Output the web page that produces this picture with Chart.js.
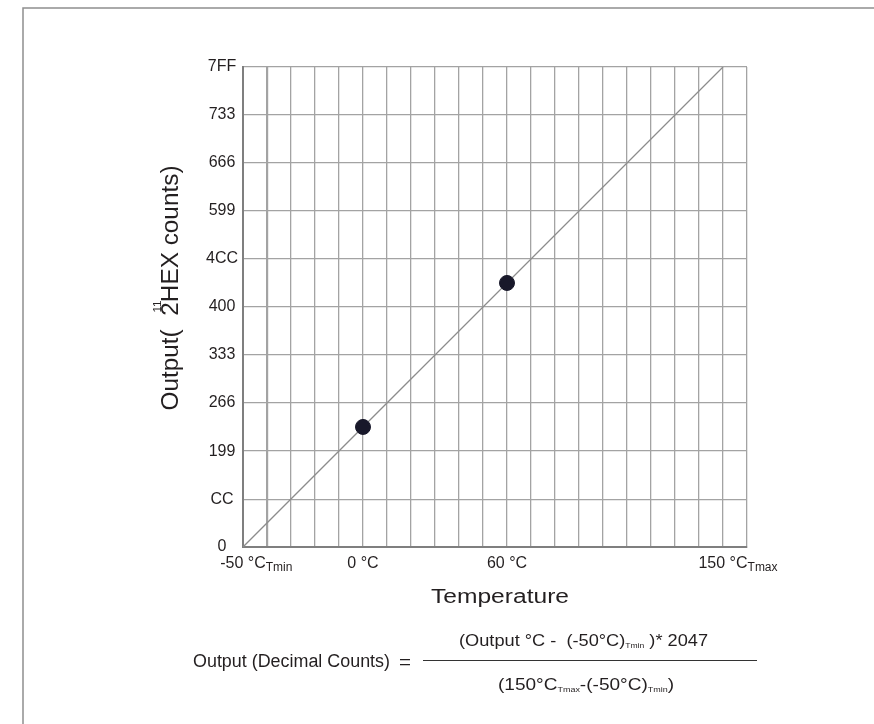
<!DOCTYPE html>
<html>
<head>
<meta charset="utf-8">
<script src="https://cdn.jsdelivr.net/npm/chart.js@4.4.1/dist/chart.umd.min.js"></script>
<style>
	html, body { margin: 0; padding: 0; background: #fff; }
	#wrap { width: 874px; height: 724px; }
</style>
</head>
<body>
<div id="wrap"><canvas id="tempChart" width="874" height="724"></canvas></div>
<script>
// Transfer line (temperature -> counts) and the two marked points.
const lineTemps = [ -50, 150 ];
const lineCounts = [ 0, 2047 ];
const pointTemps = [ 0, 60 ];
const pointCounts = [ 512, 1126 ];

// Grid every 10 degrees, axis runs one step past Tmax.
const gridTemps = [ -50, -40, -30, -20, -10, 0, 10, 20, 30, 40, 50, 60, 70, 80, 90, 100, 110, 120, 130, 140, 150, 160 ];
const xLabelTemps = [ -50, 0, 60, 150 ];
const xLabelText = [ '-50 °C', '0 °C', '60 °C', '150 °C' ];
const xLabelSub = [ 'Tmin', '', '', 'Tmax' ];

// Y ticks are hex counts.
const yTickLabels = [ '0', 'CC', '199', '266', '333', '400', '4CC', '599', '666', '733', '7FF' ];

const FONT = '"Liberation Sans", Arial, sans-serif';
const TEXT = '#231f20';

function textWidth( ctx, text, size ) {
	ctx.font = size + 'px ' + FONT;
	return ctx.measureText( text ).width;
}

// Draw a list of [text, isSub] runs on one line, stretched to a target width.
function drawRuns( ctx, runs, left, y, size, subSize, target ) {
	let natural = 0;
	runs.forEach( function ( r ) {
		natural += textWidth( ctx, r[ 0 ], r[ 1 ] ? subSize : size );
	} );
	const sx = target ? target / natural : 1;
	ctx.save();
	ctx.translate( left, y );
	ctx.scale( sx, 1 );
	ctx.textAlign = 'left';
	ctx.textBaseline = 'middle';
	let x = 0;
	runs.forEach( function ( r ) {
		const s = r[ 1 ] ? subSize : size;
		ctx.font = s + 'px ' + FONT;
		ctx.fillText( r[ 0 ], x, r[ 1 ] ? size * 0.3 : 0 );
		x += ctx.measureText( r[ 0 ] ).width;
	} );
	ctx.restore();
}

const decor = {
	id: 'decor',
	beforeDraw: function ( chart ) {
		const ctx = chart.ctx;
		ctx.save();
		ctx.strokeStyle = '#8f8f8f';
		ctx.lineWidth = 1.5;
		ctx.beginPath();
		ctx.moveTo( 23, 724 );
		ctx.lineTo( 23, 8 );
		ctx.lineTo( 874, 8 );
		ctx.stroke();
		ctx.restore();
	},
	afterDraw: function ( chart ) {
		const ctx = chart.ctx,
			xs = chart.scales.x,
			area = chart.chartArea;
		ctx.save();
		ctx.fillStyle = TEXT;

		// X tick labels with subscripts
		xLabelTemps.forEach( function ( t, i ) {
			const px = xs.getPixelForValue( t );
			ctx.font = '16px ' + FONT;
			ctx.textAlign = 'center';
			ctx.textBaseline = 'middle';
			ctx.fillText( xLabelText[ i ], px, area.bottom + 17 );
			if ( xLabelSub[ i ] ) {
				const w = ctx.measureText( xLabelText[ i ] ).width;
				ctx.font = '12px ' + FONT;
				ctx.textAlign = 'left';
				ctx.fillText( xLabelSub[ i ], px + w / 2, area.bottom + 21 );
			}
		} );

		// X title
		drawRuns( ctx, [ [ 'Temperature', 0 ] ], 431, 597, 20, 0, 138 );

		// Y title, rotated, with the 2^11 superscript
		ctx.save();
		ctx.translate( 172, 288 );
		ctx.rotate( -Math.PI / 2 );
		const full = textWidth( ctx, 'Output(  2HEX counts)', 23 );
		const sx = 245 / full;
		ctx.scale( sx, 1 );
		ctx.textBaseline = 'middle';
		ctx.textAlign = 'left';
		ctx.font = '23px ' + FONT;
		ctx.fillText( 'Output(  2HEX counts)', -full / 2, 0 );
		const pre = textWidth( ctx, 'Output(  ', 23 );
		ctx.font = '11px ' + FONT;
		ctx.fillText( '11', -full / 2 + pre + 3, -14 );
		ctx.restore();

		// Formula
		drawRuns( ctx, [ [ 'Output (Decimal Counts)', 0 ] ], 193, 662, 18, 0, 197 );
		drawRuns( ctx, [ [ '=', 0 ] ], 399, 663, 18, 0, 12 );
		ctx.strokeStyle = '#333';
		ctx.lineWidth = 1;
		ctx.beginPath();
		ctx.moveTo( 423, 660.5 );
		ctx.lineTo( 757, 660.5 );
		ctx.stroke();
		drawRuns( ctx, [ [ '(Output °C -  (-50°C)', 0 ], [ 'Tmin', 1 ], [ ' )* 2047', 0 ] ], 459, 641, 17, 8, 249 );
		drawRuns( ctx, [ [ '(150°C', 0 ], [ 'Tmax', 1 ], [ '-(-50°C)', 0 ], [ 'Tmin', 1 ], [ ')', 0 ] ], 498, 685, 17, 8, 176 );

		ctx.restore();
	}
};

new Chart( document.getElementById( 'tempChart' ), {
	type: 'scatter',
	data: {
		datasets: [ {
			type: 'line',
			data: lineTemps.map( function ( t, i ) { return { x: t, y: lineCounts[ i ] }; } ),
			borderColor: '#8c8c8c',
			borderWidth: 1.3,
			pointRadius: 0,
			order: 2
		}, {
			data: pointTemps.map( function ( t, i ) { return { x: t, y: pointCounts[ i ] }; } ),
			backgroundColor: '#18182a',
			borderColor: '#18182a',
			pointRadius: 7.5,
			order: 1
		} ]
	},
	options: {
		responsive: false,
		animation: false,
		layout: { padding: { left: 0, top: 67, right: 127, bottom: 0 } },
		plugins: {
			legend: { display: false },
			tooltip: { enabled: false }
		},
		scales: {
			x: {
				type: 'linear',
				min: -50,
				max: 160,
				afterBuildTicks: function ( s ) {
					s.ticks = gridTemps.map( function ( v ) { return { value: v }; } );
				},
				afterFit: function ( s ) { s.height = 177; },
				ticks: { display: false },
				grid: {
					color: '#a3a3a3',
					lineWidth: function ( c ) { return c.tick && c.tick.value === -40 ? 2.2 : 1.3; },
					drawTicks: false
				},
				border: { color: '#7f7f7f', width: 2 }
			},
			y: {
				min: 0,
				max: 2047,
				afterBuildTicks: function ( s ) {
					s.ticks = yTickLabels.map( function ( h ) { return { value: parseInt( h, 16 ) }; } );
				},
				afterFit: function ( s ) { s.width = 243; },
				ticks: {
					callback: function ( v, i ) { return yTickLabels[ i ]; },
					font: { size: 16, family: FONT },
					color: TEXT,
					crossAlign: 'center',
					padding: 5
				},
				grid: { color: '#a3a3a3', lineWidth: 1.3, drawTicks: false },
				border: { color: '#7f7f7f', width: 2 }
			}
		}
	},
	plugins: [ decor ]
} );
</script>
</body>
</html>
